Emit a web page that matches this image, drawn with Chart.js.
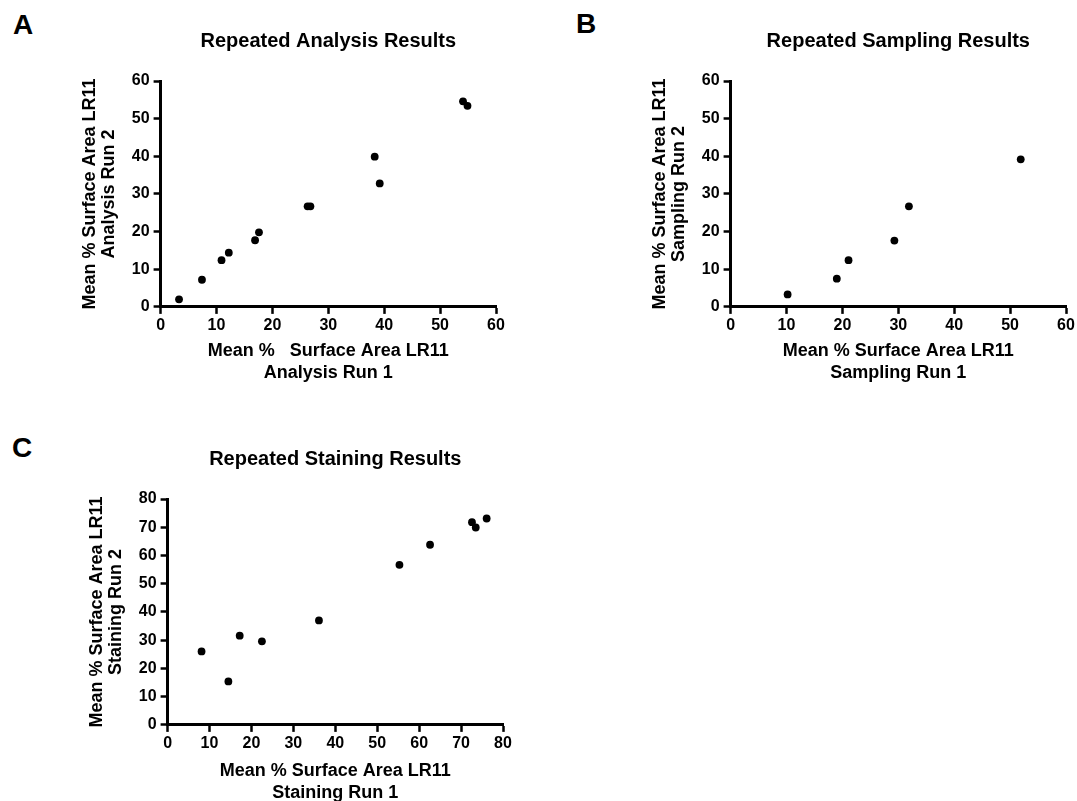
<!DOCTYPE html>
<html>
<head>
<meta charset="utf-8">
<script src="https://cdn.jsdelivr.net/npm/chart.js@4.4.0/dist/chart.umd.min.js"></script>
<style>
  html, body { margin: 0; padding: 0; background: #fff; overflow: hidden; }
  body { width: 1077px; height: 801px; position: relative; font-family: "Liberation Sans", Arial, sans-serif; }
  .panel-letter { position: absolute; font-size: 28px; line-height: 28px; font-weight: bold; color: #000; }
  canvas { position: absolute; }
</style>
</head>
<body>
<div class="panel-letter" style="left:13px; top:11px;">A</div>
<div class="panel-letter" style="left:576px; top:10px;">B</div>
<div class="panel-letter" style="left:12px; top:434px;">C</div>

<canvas id="chartA" width="470" height="373" style="left:40px; top:15px;"></canvas>
<canvas id="chartB" width="470" height="373" style="left:610px; top:15px;"></canvas>
<canvas id="chartC" width="470" height="378" style="left:47px; top:430px;"></canvas>

<script>
// panel A - repeated analysis
let analysisRun1 = [3.3, 7.4, 10.9, 12.2, 16.9, 17.6, 26.3, 26.8, 38.3, 39.2, 54.1, 54.9];
let analysisRun2 = [2.0, 7.2, 12.4, 14.4, 17.7, 19.8, 26.7, 26.7, 39.9, 32.8, 54.6, 53.4];

// panel B - repeated sampling
let samplingRun1 = [10.2, 19.0, 21.1, 29.3, 31.9, 51.9];
let samplingRun2 = [3.3, 7.5, 12.4, 17.6, 26.7, 39.2];

// panel C - repeated staining
let stainingRun1 = [8.1, 14.5, 17.2, 22.5, 36.1, 55.3, 62.6, 72.6, 73.5, 76.1];
let stainingRun2 = [26.0, 15.4, 31.6, 29.6, 37.0, 56.7, 63.8, 71.8, 69.9, 73.1];

let ticksAB = [0, 10, 20, 30, 40, 50, 60];
let ticksC = [0, 10, 20, 30, 40, 50, 60, 70, 80];

const FONT = '"Liberation Sans", Arial, sans-serif';
Chart.defaults.font.family = FONT;
Chart.defaults.color = '#000';

function axis(tickValues, titleLines, isY, titlePadTop) {
  return {
    type: 'linear',
    min: tickValues[0],
    max: tickValues[tickValues.length - 1],
    afterBuildTicks: (scale) => { scale.ticks = tickValues.map(v => ({ value: v })); },
    ticks: {
      color: '#000',
      padding: isY ? 4 : 2,
      maxRotation: 0,
      autoSkip: false,
      font: { size: 16, weight: 'bold', family: FONT }
    },
    grid: {
      display: true,
      drawOnChartArea: false,
      tickLength: 7,
      tickWidth: 2.5,
      tickColor: '#000'
    },
    border: { display: true, color: '#000', width: 3 },
    title: {
      display: true,
      text: titleLines,
      color: '#000',
      font: { size: 18, weight: 'bold', family: FONT, lineHeight: isY ? 1.05 : 1.22 },
      padding: isY ? { top: 0, bottom: 9 } : { top: titlePadTop, bottom: 0 }
    }
  };
}

function makePanel(id, xs, ys, tickValues, titleText, xTitle, yTitle, pad) {
  let points = xs.map((x, i) => ({ x: x, y: ys[i] }));
  return new Chart(document.getElementById(id), {
    type: 'scatter',
    data: {
      datasets: [{
        data: points,
        backgroundColor: '#000',
        borderColor: '#000',
        pointRadius: 3.9,
        pointHoverRadius: 3.9,
        borderWidth: 0
      }]
    },
    options: {
      responsive: false,
      animation: false,
      events: [],
      layout: { padding: pad.layout },
      plugins: {
        legend: { display: false },
        tooltip: { enabled: false },
        title: {
          display: true,
          text: titleText,
          fullSize: false,
          color: '#000',
          font: { size: 20, weight: 'bold', family: FONT, lineHeight: 1.2 },
          padding: pad.title
        }
      },
      scales: {
        x: axis(tickValues, xTitle, false, pad.xTitleTop),
        y: axis(tickValues, yTitle, true)
      }
    }
  });
}

makePanel('chartA', analysisRun1, analysisRun2, ticksAB,
  'Repeated Analysis Results',
  ['Mean %   Surface Area LR11', 'Analysis Run 1'],
  ['Mean % Surface Area LR11', 'Analysis Run 2'],
  { layout: { left: 41, right: 14, top: 0, bottom: 4 }, title: { top: 14, bottom: 28 }, xTitleTop: 3 });

makePanel('chartB', samplingRun1, samplingRun2, ticksAB,
  'Repeated Sampling Results',
  ['Mean % Surface Area LR11', 'Sampling Run 1'],
  ['Mean % Surface Area LR11', 'Sampling Run 2'],
  { layout: { left: 41, right: 14, top: 0, bottom: 4 }, title: { top: 14, bottom: 28 }, xTitleTop: 3 });

makePanel('chartC', stainingRun1, stainingRun2, ticksC,
  'Repeated Staining Results',
  ['Mean % Surface Area LR11', 'Staining Run 1'],
  ['Mean % Surface Area LR11', 'Staining Run 2'],
  { layout: { left: 41, right: 14, top: 0, bottom: 4 }, title: { top: 17, bottom: 28 }, xTitleTop: 5 });
</script>
</body>
</html>
